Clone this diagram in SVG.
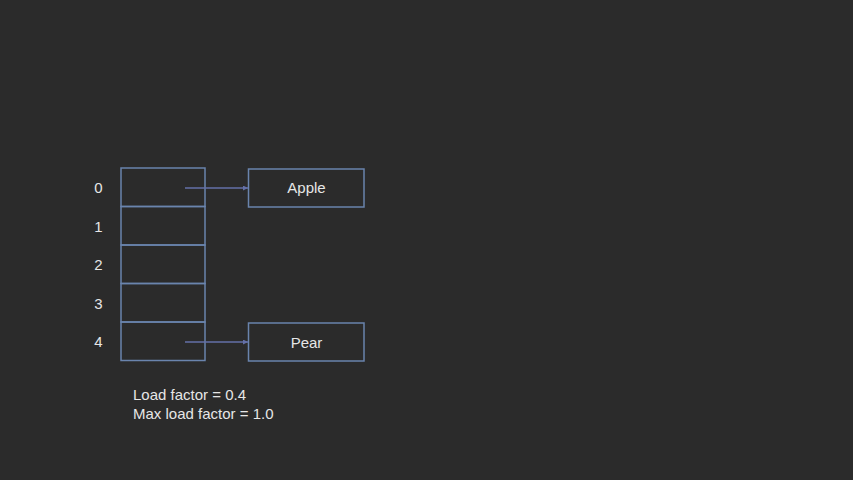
<svg xmlns="http://www.w3.org/2000/svg" width="853" height="480" viewBox="0 0 853 480">
<style>
.cell{fill:none;stroke:#6a84ad;stroke-width:1.5}
.lbl{font-family:"Liberation Sans",Arial,sans-serif;font-size:15px;fill:#e6e6e6}
.conn{stroke:#6470a8;stroke-width:1.5;fill:none}
</style>
<defs>
<marker id="ah" viewBox="0 0 10 10" refX="10" refY="5" markerWidth="5" markerHeight="5" orient="auto" markerUnits="userSpaceOnUse">
<path d="M0,0 L10,5 L0,10 z" fill="#6470a8"/>
</marker>
</defs>
<rect width="853" height="480" fill="#2b2b2b"/>
<g id="buckets">
<rect class="cell" x="121" y="168" width="84" height="38.5"/>
<rect class="cell" x="121" y="206.5" width="84" height="38.5"/>
<rect class="cell" x="121" y="245" width="84" height="38.5"/>
<rect class="cell" x="121" y="283.5" width="84" height="38.5"/>
<rect class="cell" x="121" y="322" width="84" height="38.5"/>
</g>
<g id="indices">
<text class="lbl" x="98.5" y="193" text-anchor="middle">0</text>
<text class="lbl" x="98.5" y="231.5" text-anchor="middle">1</text>
<text class="lbl" x="98.5" y="270" text-anchor="middle">2</text>
<text class="lbl" x="98.5" y="308.5" text-anchor="middle">3</text>
<text class="lbl" x="98.5" y="347" text-anchor="middle">4</text>
</g>
<g id="apple">
<rect class="cell" x="248.5" y="169" width="115.5" height="38"/>
<text class="lbl" x="306.5" y="193" text-anchor="middle">Apple</text>
</g>
<g id="pear">
<rect class="cell" x="248.5" y="323" width="115.5" height="38"/>
<text class="lbl" x="306.5" y="347.5" text-anchor="middle">Pear</text>
</g>
<g id="connectors">
<line class="conn" x1="185" y1="188" x2="248" y2="188" marker-end="url(#ah)"/>
<line class="conn" x1="185" y1="342" x2="248" y2="342" marker-end="url(#ah)"/>
</g>
<g id="info">
<text class="lbl" x="133" y="400">Load factor = 0.4</text>
<text class="lbl" x="133" y="419">Max load factor = 1.0</text>
</g>
</svg>
